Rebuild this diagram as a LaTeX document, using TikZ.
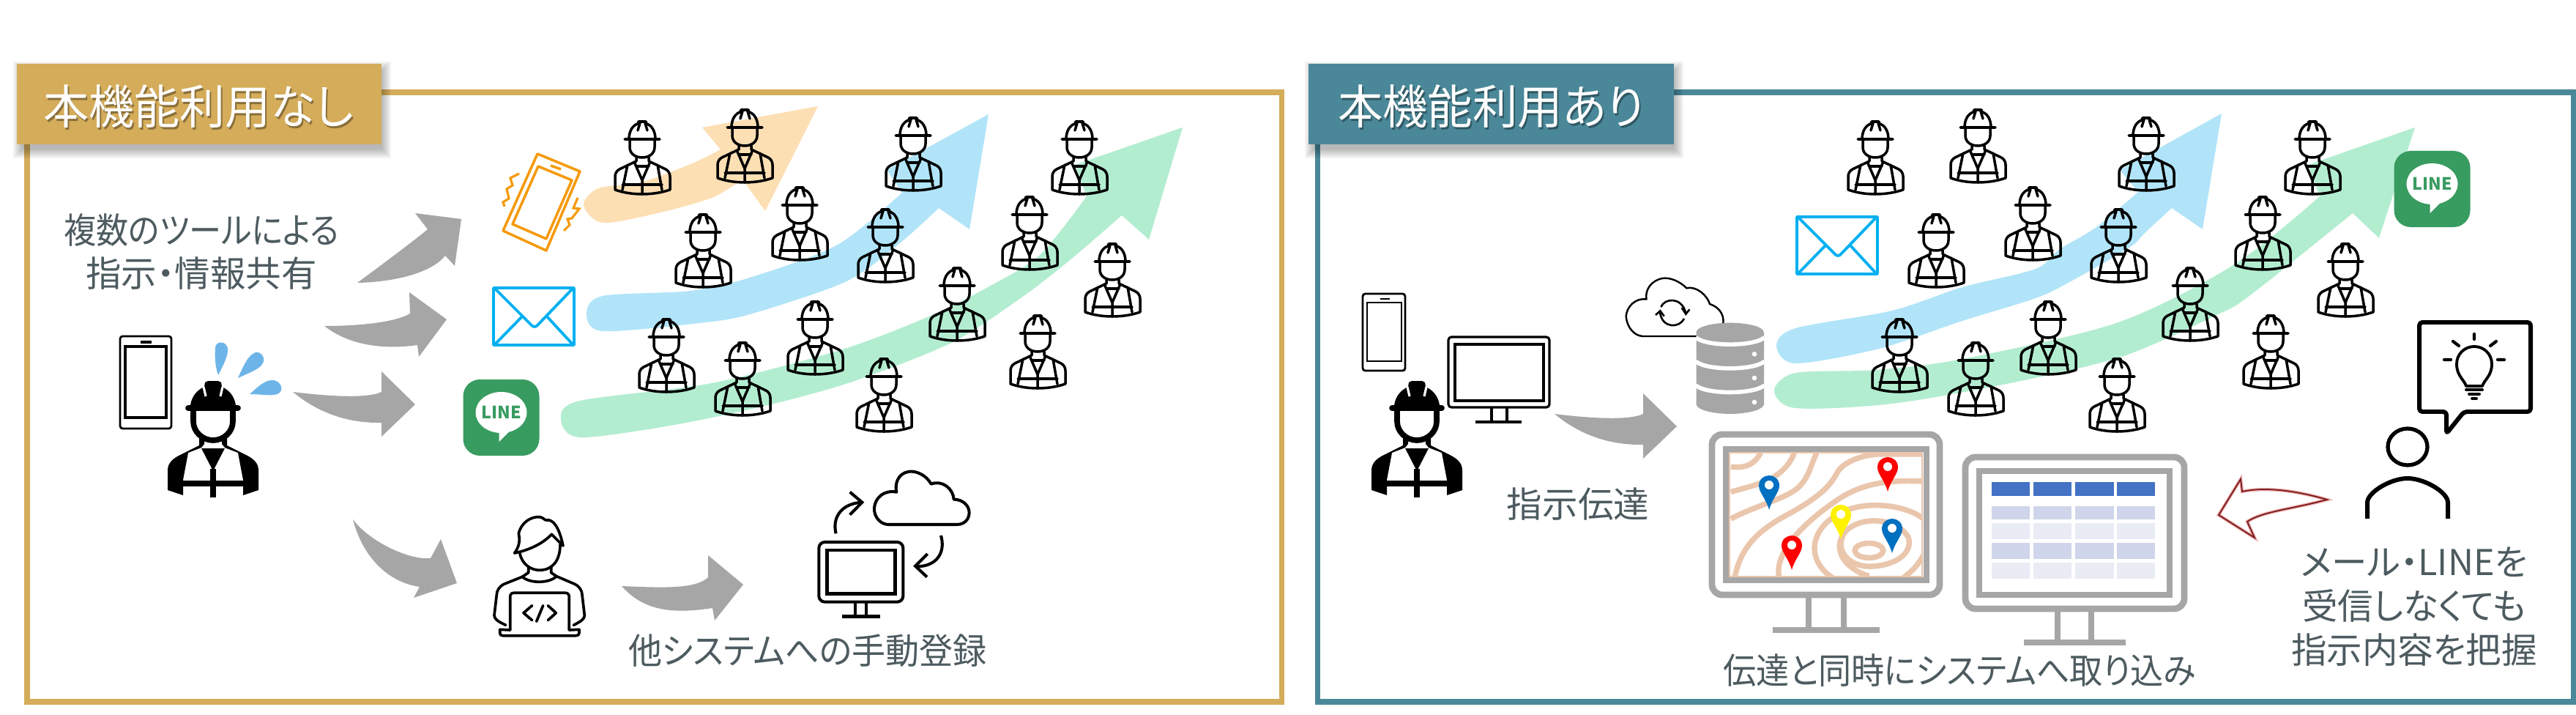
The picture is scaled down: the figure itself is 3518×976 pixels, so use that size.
\documentclass[tikz,border=0pt]{standalone}
\usepackage{fontspec}
\setmainfont[RawFeature=+palt]{Noto Sans CJK JP}
\definecolor{goldbar}{HTML}{D4AC5A}
\definecolor{tealbar}{HTML}{4A8899}
\definecolor{textgrey}{HTML}{4D5B60}
\definecolor{arrowgrey}{HTML}{A6A6A6}
\definecolor{flowblue}{HTML}{B1E4F8}
\definecolor{flowgreen}{HTML}{B3EDD0}
\definecolor{floworange}{HTML}{FDDFB4}
\definecolor{mailblue}{HTML}{00B0F0}
\definecolor{linegreen}{HTML}{389B60}
\definecolor{dropblue}{HTML}{6DB5E8}
\definecolor{shakeorange}{HTML}{F59A0C}
\definecolor{contour}{HTML}{EAC6AC}
\definecolor{headblue}{HTML}{4472C4}
\definecolor{rowdark}{HTML}{CFD5EA}
\definecolor{rowlight}{HTML}{E9EBF5}
\definecolor{backred}{HTML}{7E2020}
\definecolor{backpink}{HTML}{F0B4B4}
\definecolor{mapblue}{HTML}{0070C0}
\tikzset{
	bartitle/.style={text=white,font=\fontsize{18.2}{22}\selectfont},
	bartitleshadow/.style={text=black,opacity=.35,font=\fontsize{18.2}{22}\selectfont},
	graytext/.style={text=textgrey,font=\fontsize{13.8}{17.1}\selectfont,align=center},
	worker/.pic={
		\draw[line width=1pt,line cap=round,line join=round]
			(-24,25)--(24,25)
			(-18,25) .. controls (-18,14) and (-13,6) .. (-6,4) -- (-5,1) -- (5,1) -- (6,4) .. controls (13,6) and (18,14) .. (18,25)
			(-3,3)--(-6,13) (4,3)--(7,13)
			(-17,25)--(-17,36) .. controls (-17,45) and (-9,50) .. (0,50) .. controls (9,50) and (17,45) .. (17,36)--(17,25)
			(-8,50)--(-8,55)--(-31,66) .. controls (-35,68) and (-37,72) .. (-37,76)--(-37,94)
			.. controls (-15,102) and (15,102) .. (38,94)--(38,76) .. controls (38,72) and (36,68) .. (32,66)--(9,55)--(9,50)
			(-20,60)--(-27,94) (21,60)--(27,94)
			(-10,58)--(0,81)--(10,58) (0,81)--(0,99)
			(-27,87)--(27,87) (-8,62)--(9,62);
	},
	bigworker/.pic={
		\fill (-31,33) .. controls (-29,20) and (-21,12) .. (-12,8) -- (-11,2) -- (-7,0) -- (7,0) -- (11,2) -- (12,8) .. controls (21,12) and (29,20) .. (31,33) -- cycle;
		\draw[white,line width=.9pt] (-13,8)--(-10,21) (13,8)--(10,21);
		\draw[line width=2.2pt,line cap=round] (-34,37)--(34,37);
		\draw[line width=2.2pt] (-27,38)--(-27,55) .. controls (-27,70) and (-14,81) .. (0,81) .. controls (14,81) and (27,70) .. (27,55)--(27,38);
		\fill (-19,78) -- (-12,78) -- (-12,86) -- (-16,91) -- (-34,98) -- (-41,135) -- (-41,156) -- (-62,149) -- (-62,122) .. controls (-62,112) and (-55,106) .. (-45,101) -- (-19,88) -- cycle;
		\fill (19,78) -- (12,78) -- (12,86) -- (16,91) -- (34,98) -- (41,135) -- (41,156) -- (62,149) -- (62,122) .. controls (62,112) and (55,106) .. (45,101) -- (19,88) -- cycle;
		\fill (-16,92) -- (0,123) -- (16,92) -- cycle;
		\draw[line width=2.2pt] (-41,140)--(41,140) (0,120)--(0,159);
	},
	mailicon/.pic={
		\draw[mailblue,line width=1.1pt,line join=round] (0,0) rectangle (110,78)
			(1,0)--(53,52)--(56,53)--(59,52)--(109,0)
			(2,77)--(40,38) (108,77)--(72,38);
	},
	lineicon/.pic={
		\fill[linegreen,rounded corners=6.5pt] (-52,-52) rectangle (52,52);
		\fill[white] (0,-7) ellipse (35 and 28);
		\fill[white] (-3,16) -- (-3,33) -- (16,14) -- cycle;
		\node[text=linegreen,font=\bfseries\fontsize{6.6}{8}\selectfont] (linemark) at (0,-7) {LINE};
	},
	mappin/.pic={
		\fill[pic actions] (0,0) .. controls (-4,-15) and (-14,-24) .. (-14,-33) .. controls (-14,-42) and (-7,-47) .. (0,-47) .. controls (7,-47) and (14,-42) .. (14,-33) .. controls (14,-24) and (4,-15) .. (0,0) -- cycle;
		\fill[white] (0,-34) ellipse (6 and 6);
	},
}
\begin{document}
\begin{tikzpicture}[x=0.01cm,y=-0.01cm,line cap=butt]
	\useasboundingbox (0,0) rectangle (3518,976);
	\fill[white] (0,0) rectangle (3518,976);

	% frames
	\draw[goldbar,line width=2pt] (37,126) rectangle (1750,958);
	\draw[tealbar,line width=2pt] (1799,126) rectangle (3514,958);
	\foreach \s in {0,2,...,12} {
		\fill[black,opacity=.045] (30-\s,96-\s) rectangle (522+\s,204+\s);
		\fill[black,opacity=.045] (1794-\s,96-\s) rectangle (2287+\s,204+\s);
	}
	\fill[goldbar] (23,87) rectangle (521,197);
	\fill[tealbar] (1787,87) rectangle (2286,197);
	\node[bartitleshadow,xscale=.97] (leftshade) at (273,148) {本機能利用なし};
	\node[bartitle,xscale=.97] (lefttitle) at (271,145) {本機能利用なし};
	\node[bartitleshadow,xscale=.96] (rightshade) at (2038,148) {本機能利用あり};
	\node[bartitle,xscale=.96] (righttitle) at (2036,145) {本機能利用あり};

	% flows, left
	\fill[floworange] (959,174) -- (1117,145) -- (1045,288) -- plot[smooth,tension=.5] coordinates {(1014,245) (972,270) (898,291) (823,304) (797,280) (817,257) (875,249) (943,224) (984,204)} -- cycle;
	\fill[flowblue] (1211,232) -- (1350,156) -- (1324,313) -- plot[smooth,tension=.5] coordinates {(1282,284) (1230,331) (1156,384) (1024,429) (955,441) (823,452) (801,428) (823,404) (943,397) (1024,379) (1144,334) (1232,263)} -- cycle;
	\fill[flowgreen] (1468,225) -- (1615,174) -- (1569,327) -- plot[smooth,tension=.5] coordinates {(1532,294) (1460,356) (1391,409) (1299,468) (1167,520) (1053,552) (921,580) (792,597) (766,572) (792,547) (972,523) (1150,477) (1271,431) (1351,391) (1420,348) (1484,268)} -- cycle;

	% flows, right
	\fill[flowblue] (2895,232) -- (3034,155) -- (3008,313) -- plot[smooth,tension=.5] coordinates {(2966,284) (2930,317) (2908,338) (2830,383) (2780,407) (2680,438) (2566,476) (2452,496) (2426,472) (2452,448) (2584,424) (2680,392) (2780,367) (2813,340) (2863,310) (2920,262)} -- cycle;
	\fill[flowgreen] (3152,225) -- (3298,174) -- (3249,325) -- plot[smooth,tension=.5] coordinates {(3213,291) (3073,403) (3027,430) (2900,486) (2750,522) (2584,551) (2452,557) (2423,533) (2452,509) (2561,505) (2680,490) (2893,440) (3053,360) (3168,268)} -- cycle;

	% crowd
	\foreach \dx in {0,1684} {
		\foreach \wx/\wy in {877/165,1017/149,1247/160,1474/165,960/292,1092/255,1209/285,1406/268,1519/332,1307/365,1113/411,910/435,1014/467,1207/489,1417/430} {
			\pic at (\wx+\dx,\wy) {worker};
		}
	}

	% grey arrows
	\fill[arrowgrey] (488,386) .. controls (530,355) and (570,325) .. (584,313) -- (567,291) -- (630,299) -- (621,363) -- (608,349) .. controls (590,372) and (540,385) .. (488,386) -- cycle;
	\fill[arrowgrey] (443,445) .. controls (490,445) and (540,440) .. (560,428) -- (559,399) -- (610,436) -- (572,487) -- (570,471) .. controls (520,478) and (475,470) .. (443,445) -- cycle;
	\foreach \ax/\ay in {0/0,1723/30}
		\fill[arrowgrey,shift={(\ax,\ay)}] (400,535) .. controls (440,540) and (500,545) .. (521,535) -- (521,507) -- (567,552) -- (521,596) -- (521,577) .. controls (470,578) and (430,560) .. (400,535) -- cycle;
	\fill[arrowgrey] (482,709) .. controls (505,740) and (560,765) .. (588,762) -- (602,736) -- (624,796) -- (565,816) -- (573,801) .. controls (530,795) and (495,760) .. (482,709) -- cycle;
	\fill[arrowgrey] (849,800) .. controls (900,802) and (950,805) .. (967,788) -- (967,758) -- (1015,798) -- (976,847) -- (973,830) .. controls (920,838) and (880,835) .. (849,800) -- cycle;

	% left phone and boss
	\draw[line width=.8pt,rounded corners=1] (164,459) rectangle (234,585);
	\draw[line width=.9pt] (171,473) rectangle (227,570);
	\draw[line width=.9pt] (192,467)--(207,467);
	\pic at (291,520) {bigworker};
	\fill[dropblue] (298,512) .. controls (292,495) and (294,478) .. (294,474) .. controls (296,464) and (310,466) .. (311,476) .. controls (312,486) and (304,500) .. (298,512) -- cycle;
	\fill[dropblue] (325,516) .. controls (332,500) and (338,488) .. (344,484) .. controls (352,476) and (362,485) .. (360,493) .. controls (358,503) and (342,508) .. (325,516) -- cycle;
	\fill[dropblue] (341,538) .. controls (350,530) and (360,520) .. (370,519) .. controls (382,518) and (388,530) .. (382,536) .. controls (375,542) and (358,538) .. (341,538) -- cycle;

	% orange phone
	\draw[shakeorange,line width=1pt,line join=round] (734,210) -- (792,234) -- (746,342) -- (687,315) -- cycle;
	\draw[shakeorange,line width=1pt,line join=round] (735,227) -- (781,246) -- (746,326) -- (700,306) -- cycle;
	\draw[shakeorange,line width=1pt] (752,226)--(766,231);
	\draw[shakeorange,line width=.9pt] (709,237)--(697,243)--(700,253)--(692,258)--(695,271)--(687,276)--(689,282);
	\draw[shakeorange,line width=.9pt] (789,270)--(783,284)--(791,285)--(781,298)--(775,299)--(778,307)--(770,315);

	\pic at (674,393) {mailicon};
	\pic at (684.5,570) {lineicon};

	% developer
	\begin{scope}[shift={(660,690)},scale=.3333,line width=1.05pt,line cap=round,line join=round]
		\draw (128,195) .. controls (150,165) and (150,140) .. (145,115) .. controls (155,70) and (195,45) .. (230,47) .. controls (245,48) and (250,60) .. (258,60) .. controls (285,55) and (310,85) .. (327,165) -- (280,118) .. controls (250,150) and (200,180) .. (128,195) -- cycle;
		\draw (150,197) .. controls (160,245) and (200,265) .. (230,265) .. controls (280,265) and (315,230) .. (315,160);
		\draw (185,250)--(185,275)--(160,292) .. controls (190,320) and (270,320) .. (300,290)--(278,275)--(278,250);
		\draw (160,292)--(85,322) .. controls (65,332) and (55,350) .. (55,365)--(45,450) .. controls (45,465) and (60,475) .. (92,490);
		\draw (300,290)--(375,322) .. controls (395,332) and (405,350) .. (405,365)--(415,450) .. controls (415,465) and (400,475) .. (370,490);
		\draw (110,510)--(110,375) .. controls (110,365) and (115,358) .. (125,358)--(337,358) .. controls (347,358) and (352,365) .. (352,375)--(352,510);
		\draw (68,508)--(110,510) (352,510)--(393,508);
		\draw (68,508)--(68,522) .. controls (68,530) and (72,533) .. (80,533)--(380,533) .. controls (388,533) and (393,530) .. (393,522)--(393,508);
		\draw (200,410)--(165,440)--(200,470) (245,410)--(218,475) (265,410)--(298,440)--(265,470);
	\end{scope}

	% monitor and cloud
	\begin{scope}[shift={(1090,620)},scale=.3333,line width=1.15pt]
		\draw[rounded corners=2.3pt] (85,360) rectangle (430,605);
		\draw[line width=1.4pt] (118,393) rectangle (398,572);
		\draw (235,610)--(235,660) (280,610)--(280,660);
		\draw[line width=1.4pt] (180,664)--(335,664);
		\draw[line join=round] (370,288)--(650,288) .. controls (690,288) and (705,255) .. (700,230) .. controls (695,205) and (670,185) .. (638,185) .. controls (635,140) and (590,105) .. (545,122) .. controls (525,85) and (480,65) .. (450,72) .. controls (410,80) and (395,120) .. (403,155) .. controls (350,145) and (315,180) .. (312,220) .. controls (310,260) and (340,288) .. (370,288) -- cycle;
		\draw (155,325) .. controls (140,265) and (170,205) .. (258,197);
		\draw (212,155)--(262,197)--(212,248);
		\draw (585,333) .. controls (605,400) and (570,460) .. (485,460);
		\draw (530,408)--(480,458)--(528,503);
	\end{scope}

	\node[graytext,xscale=.91] (tooltext) at (275,314) {複数のツールによる};
	\node[graytext] (sharetext) at (275,373) {指示・情報共有};
	\node[graytext,xscale=.95] (manualtext) at (1103,888) {他システムへの手動登録};

	% right side
	\draw[line width=.8pt,rounded corners=1] (1861,401) rectangle (1919,506);
	\draw[line width=.8pt] (1867,413) rectangle (1914,493);
	\draw[line width=.8pt] (1885,408)--(1898,408);
	\draw[line width=.9pt,rounded corners=1.2pt] (1978,460) rectangle (2116,556);
	\draw[line width=1.1pt] (1987,470) rectangle (2108,547);
	\draw[line width=.9pt] (2037,556)--(2037,576) (2058,556)--(2058,576);
	\draw[line width=1pt] (2015,576)--(2078,576);
	\pic at (1935,520) {bigworker};
	\pic at (2454,296) {mailicon};
	\pic at (3321.5,258) {lineicon};

	% sync cloud and database
	\begin{scope}[shift={(2180,360)},scale=.3333]
		\draw[line width=.7pt,line cap=round] (520,245) .. controls (525,200) and (495,175) .. (465,165) .. controls (455,130) and (410,90) .. (370,100) .. controls (340,70) and (300,55) .. (270,60) .. controls (225,70) and (200,105) .. (205,145) .. controls (160,140) and (125,175) .. (122,215) .. controls (125,260) and (155,295) .. (190,297)--(415,297);
		\draw[line width=.75pt] (265,177) .. controls (280,140) and (350,135) .. (366,200);
		\draw[line width=.75pt] (350,180)--(367,206)--(382,187);
		\draw[line width=.75pt] (360,225) .. controls (340,265) and (270,265) .. (261,200);
		\draw[line width=.75pt] (243,210)--(262,193)--(278,215);
		\fill[arrowgrey] (410,280)--(410,578) .. controls (420,605) and (500,615) .. (548,615) .. controls (600,615) and (675,605) .. (687,578)--(687,280)--cycle;
		\draw[white,line width=1.6pt] (408,302) .. controls (450,340) and (645,340) .. (689,302);
		\draw[white,line width=1.6pt] (408,400) .. controls (450,438) and (645,438) .. (689,400);
		\draw[white,line width=1.6pt] (408,498) .. controls (450,536) and (645,536) .. (689,498);
		\fill[arrowgrey] (548,280) ellipse (138 and 38);
		\foreach \dy in {370,468,567}
			\fill[white] (648,\dy) circle (10);
	\end{scope}

	% map monitor
	\draw[arrowgrey,line width=2.5pt,rounded corners=4pt] (2338,593) rectangle (2649,812);
	\draw[arrowgrey,line width=2.2pt] (2470,816)--(2470,857) (2518,816)--(2518,857);
	\draw[arrowgrey,line width=2.3pt] (2421,860)--(2567,860);
	\begin{scope}
		\clip (2361,617) rectangle (2626,788);
		\begin{scope}[shift={(2300,560)},xscale=.51,yscale=.333,contour,line width=2.1pt]
			\draw (125,232) .. controls (170,240) and (190,215) .. (205,175);
			\draw (125,335) .. controls (190,305) and (265,290) .. (295,175);
			\draw (125,445) .. controls (200,385) and (280,360) .. (310,310) .. controls (335,270) and (340,220) .. (355,175);
			\draw (135,690) .. controls (150,560) and (200,490) .. (280,425) .. controls (370,350) and (395,300) .. (410,255) .. controls (425,215) and (470,185) .. (520,180) -- (645,180);
			\draw (255,690) .. controls (240,600) and (300,490) .. (385,395) .. controls (450,320) and (510,280) .. (645,292);
			\draw (645,450) .. controls (600,390) and (490,365) .. (420,420) .. controls (340,480) and (320,610) .. (400,690);
			\draw (495,680) .. controls (430,650) and (395,570) .. (430,500) .. controls (470,430) and (570,440) .. (600,520) .. controls (615,590) and (560,640) .. (495,640) .. controls (440,640) and (400,570) .. (430,500);
			\draw (495,575) ellipse (38 and 30);
			\draw (640,595) .. controls (625,640) and (605,665) .. (585,690);
		\end{scope}
	\end{scope}
	\draw[contour,line width=.8pt] (2362,618) rectangle (2625,787);
	\draw[arrowgrey,line width=2.5pt] (2357,613) rectangle (2631,792);
	\pic[fill=mapblue] at (2416,696) {mappin};
	\pic[fill=red] at (2578,671) {mappin};
	\pic[fill=yellow] at (2514,736) {mappin};
	\pic[fill=mapblue] at (2584,755) {mappin};
	\pic[fill=red] at (2447,778) {mappin};

	% table monitor
	\draw[arrowgrey,line width=2.5pt,rounded corners=4pt] (2684,624) rectangle (2983,831);
	\draw[arrowgrey,line width=2.5pt] (2703,643) rectangle (2963,812);
	\draw[arrowgrey,line width=2.2pt] (2810,835)--(2810,875) (2856,835)--(2856,875);
	\draw[arrowgrey,line width=2.3pt] (2764,877)--(2903,877);
	\foreach \colx/\colw in {2720/52,2777/52,2834/53,2891/52} {
		\fill[headblue] (\colx,658) rectangle (\colx+\colw,677);
		\fill[rowdark] (\colx,691) rectangle (\colx+\colw,709);
		\fill[rowlight] (\colx,714) rectangle (\colx+\colw,736);
		\fill[rowdark] (\colx,741) rectangle (\colx+\colw,763);
		\fill[rowlight] (\colx,768) rectangle (\colx+\colw,790);
	}

	% returning arrow
	\draw[backpink,fill=white,line width=1.3pt] (3178,682) .. controls (3130,668) and (3090,665) .. (3062,671) -- (3060,654) -- (3030,703) -- (3079,734) -- (3069,712) .. controls (3090,698) and (3130,695) .. (3178,682) -- cycle;
	\draw[backred,line width=.55pt] (3178,682) .. controls (3130,668) and (3090,665) .. (3062,671) -- (3060,654) -- (3030,703) -- (3079,734) -- (3069,712) .. controls (3090,698) and (3130,695) .. (3178,682) -- cycle;

	% person with idea
	\draw[line width=1.5pt] (3288,610) ellipse (27 and 25);
	\draw[line width=1.7pt] (3233,708)--(3233,686) .. controls (3233,672) and (3265,653) .. (3288,653) .. controls (3311,653) and (3343,672) .. (3343,686)--(3343,708);
	\draw[line width=1.7pt,rounded corners=1.2pt,line join=round] (3341,562)--(3341,592)--(3365,562)--(3456,562)--(3456,440)--(3304,440)--(3304,562)--cycle;
	\draw[line width=1.1pt,line join=round] (3368,527) .. controls (3365,518) and (3355,513) .. (3355,497) .. controls (3355,483) and (3366,473) .. (3379,473) .. controls (3392,473) and (3403,483) .. (3403,497) .. controls (3403,513) and (3393,518) .. (3390,527) -- cycle;
	\draw[line width=1.1pt,line cap=round] (3368,532)--(3390,532) (3372,538)--(3386,538) (3376,544)--(3382,544);
	\draw[line width=1.2pt,line cap=round] (3379,456)--(3379,463) (3350,466)--(3358,472) (3409,466)--(3401,472) (3338,491)--(3347,491) (3411,491)--(3420,491);

	\node[graytext] (tellingtext) at (2155,688) {指示伝達};
	\node[graytext,xscale=.93] (importtext) at (2676,915) {伝達と同時にシステムへ取り込み};
	\node[graytext] (graspline) at (3297,828) {メール・LINEを\\受信しなくても\\指示内容を把握};
\end{tikzpicture}
\end{document}
